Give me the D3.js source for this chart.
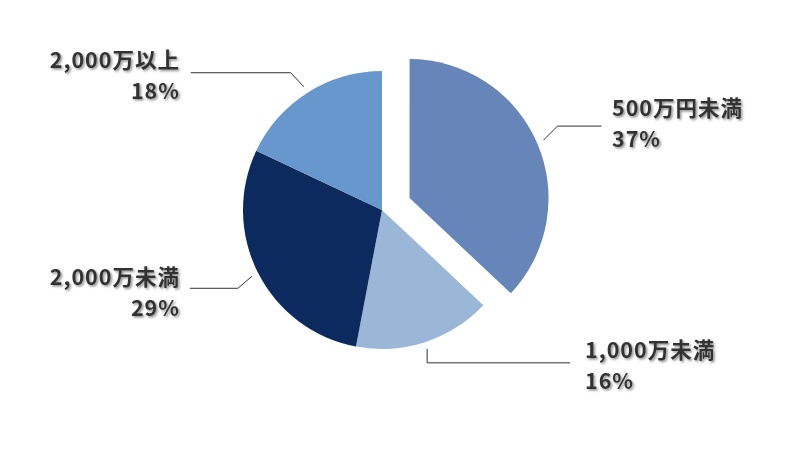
<!DOCTYPE html>
<html><head><meta charset="utf-8">
<script src="https://cdn.jsdelivr.net/npm/d3@7"></script>
<style>
html,body{margin:0;padding:0;background:#fff;}
text{font-family:"Noto Sans CJK JP","Noto Sans",sans-serif;font-weight:700;font-size:21.5px;letter-spacing:1px;fill:#333;}
</style></head>
<body>
<svg id="chart" width="800" height="472"></svg>
<script>
const categories = ["500万円未満", "1,000万未満", "2,000万未満", "2,000万以上"];
const values = [37, 16, 29, 18];
const percentLabels = ["37%", "16%", "29%", "18%"];
const colors = ["#6685b8", "#9bb7d8", "#0d2a5e", "#6897cd"];

// layout (not data)
const cx = 382, cy = 210, R = 139, explode = 30;
const labelLayout = [
  {elbow:[14,-14], horiz: 44, anchor:"start", tx: 612, ty: 108},
  {elbow:[4,14], horiz: 143, anchor:"start", tx: 585, ty: 350, vertical:true},
  {elbow:[-14,12], horiz: -48, anchor:"end", tx: 180, ty: 277},
  {elbow:[-13,-14], horiz: -100, anchor:"end", tx: 180, ty: 60}
];

const svg = d3.select("#chart");
const defs = svg.append("defs");
const f = defs.append("filter").attr("id","sh").attr("x","-10%").attr("y","-30%").attr("width","130%").attr("height","170%");
f.append("feDropShadow").attr("dx",1.5).attr("dy",1.5).attr("stdDeviation",1.1).attr("flood-color","#777").attr("flood-opacity",0.85);

const pie = d3.pie().sort(null).value(d => d)(values);
const arc = d3.arc().innerRadius(0).outerRadius(R);

const g = svg.append("g").attr("transform", `translate(${cx},${cy})`);

function offset(d, i){
  if (i !== 0) return [0,0];
  const a = (d.startAngle + d.endAngle)/2;
  return [explode*Math.sin(a), -explode*Math.cos(a)];
}

g.selectAll("path.slice").data(pie).enter().append("path")
  .attr("class","slice")
  .attr("d", arc)
  .attr("fill", (d,i) => colors[i])
  .attr("transform", (d,i) => { const o = offset(d,i); return `translate(${o[0]},${o[1]})`; });

pie.forEach((d,i) => {
  const a = (d.startAngle + d.endAngle)/2;
  const o = offset(d,i);
  const L = labelLayout[i];
  const r0 = R + 7;
  const p0 = [o[0] + r0*Math.sin(a), o[1] - r0*Math.cos(a)];
  let p1;
  if (L.vertical) p1 = [p0[0], p0[1] + L.elbow[1]];
  else p1 = [p0[0] + L.elbow[0], p0[1] + L.elbow[1]];
  const p2 = [p1[0] + L.horiz, p1[1]];
  g.append("path")
    .attr("d", d3.line()([p0,p1,p2]))
    .attr("fill","none").attr("stroke","#333").attr("stroke-width",1);
  const t = svg.append("text")
    .attr("text-anchor", L.anchor)
    .attr("filter","url(#sh)");
  t.append("tspan").attr("x", L.tx).attr("y", L.ty).attr("dy","0.36em").text(categories[i]);
  t.append("tspan").attr("x", L.tx).attr("y", L.ty + 31).attr("dy","0.36em").text(percentLabels[i]);
});
</script>
</body></html>
